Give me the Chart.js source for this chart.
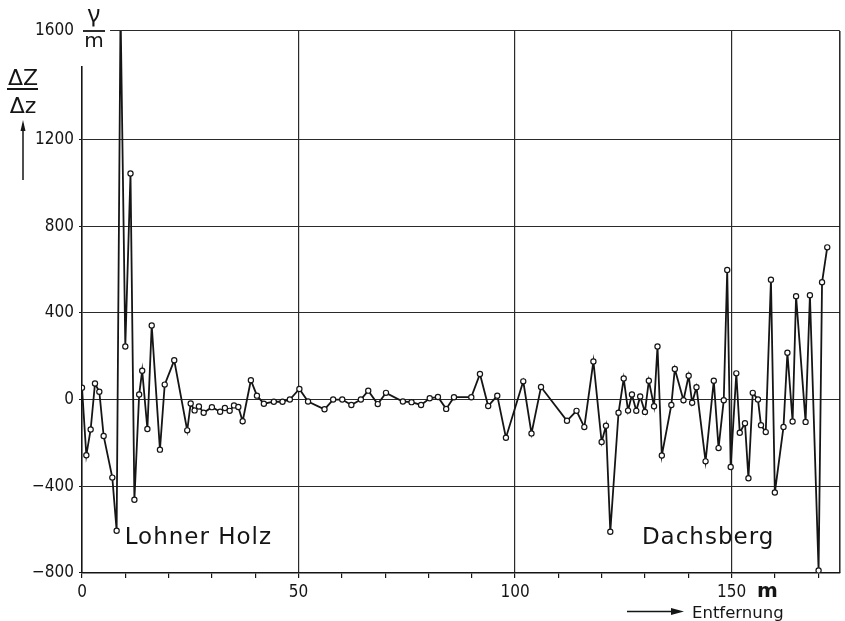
<!DOCTYPE html>
<html><head><meta charset="utf-8">
<script src="https://cdn.jsdelivr.net/npm/chart.js@4.4.1/dist/chart.umd.min.js"></script>
<style>html,body{margin:0;padding:0;background:#fff;}canvas{display:block;}</style>
</head><body>
<canvas id="c" width="845" height="621"></canvas>
<script>
// Distance along profile (m)
const distances = [0,1,2,3,4,5,7,8,8.9,10,11.2,12.1,13.2,13.9,15.1,16.1,18,19.1,21.3,24.3,
25.1,26,27,28.1,30,31.9,33,34.1,35.1,36.1,37.1,39,40.4,42,44.3,46.3,48,50.2,52.2,56,
58,60.1,62.2,64.4,66.1,68.3,70.2,74.1,76.1,78.3,80.3,82.2,84.1,85.9,89.9,91.9,93.8,95.9,97.9,101.9,
103.8,106,112,114.2,116,118.1,120,121,122,123.9,125.1,126.1,127,128,128.9,130,130.9,132.1,132.9,133.9,
136.1,136.9,138.9,140.1,140.9,141.9,144,145.9,147,148.2,149,149.8,151.1,151.9,153.1,153.9,154.9,156.1,156.8,157.9,
159.1,160,162,162.9,164.1,164.9,167.1,168.1,170.1,170.9,172.1];
// Vertical gradient ΔZ/Δz (γ/m)
const gradient = [55,-257,-138,74,36,-168,-360,-605,1800,245,1043,-462,23,133,-136,342,-231,69,181,-142,
-18,-50,-32,-61,-35,-56,-39,-52,-27,-34,-100,89,18,-19,-10,-10,0,49,-9,-45,
0,0,-25,0,41,-21,31,-9,-12,-25,6,12,-43,11,11,118,-30,18,-176,84,
-156,58,-98,-52,-127,176,-196,-121,-610,-61,97,-51,23,-52,14,-57,87,-31,245,-258,
-25,141,-3,110,-15,57,-285,87,-224,-3,598,-311,121,-153,-109,-363,31,0,-118,-150,
553,-429,-126,216,-101,477,-103,481,-788,541,702];

const yTickValues = [-800,-400,0,400,800,1200];
const yTopValue = 1700;      // top edge of the frame
const yTopLabel = "1600";    // label printed at the top edge in the original
const xTickValues = [0,10,20,30,40,50,60,70,80,90,100,110,120,130,140,150,160,170];
const xLabelValues = [0,50,100,150];
const xMax = 175;
const placeNames = ["Lohner Holz","Dachsberg"];
const placeX = [9.85,129.3];
const placeY = [-667,-667];

const INK = '#151515';
const COND = '"DejaVu Sans Condensed","DejaVu Sans",sans-serif';
const SANS = '"DejaVu Sans",sans-serif';

const decor = {
  id:'decor',
  afterDraw(chart){
    const {ctx, chartArea:a, scales:{x,y}} = chart;
    ctx.save();
    // right frame line
    ctx.strokeStyle = INK; ctx.lineWidth = 1.4;
    ctx.beginPath(); ctx.moveTo(a.right, a.top); ctx.lineTo(a.right, a.bottom); ctx.stroke();
    // open top-left corner for unit label
    ctx.fillStyle = '#fff';
    ctx.fillRect(a.left-4, a.top-6, 110-(a.left-4), 66-(a.top-6));
    ctx.fillStyle = INK;
    // unit γ/m
    ctx.lineWidth = 1.8;
    ctx.beginPath(); ctx.moveTo(83, a.top); ctx.lineTo(105, a.top); ctx.stroke();
    ctx.textAlign = 'center'; ctx.textBaseline = 'alphabetic';
    ctx.font = '24px "Noto Sans",' + SANS;
    ctx.fillText('γ', 94, 22);
    ctx.font = '20px ' + SANS;
    ctx.fillText('m', 94, 47);
    // ΔZ / Δz
    ctx.font = '22px ' + SANS;
    ctx.fillText('ΔZ', 23, 85);
    ctx.beginPath(); ctx.moveTo(7, 89); ctx.lineTo(38, 89); ctx.lineWidth = 2; ctx.stroke();
    ctx.fillText('Δz', 23, 113);
    // upward arrow
    ctx.lineWidth = 1.5;
    ctx.beginPath(); ctx.moveTo(23, 180); ctx.lineTo(23, 128); ctx.stroke();
    ctx.beginPath(); ctx.moveTo(23, 120); ctx.lineTo(20.5, 131); ctx.lineTo(25.5, 131); ctx.closePath(); ctx.fill();
    // "m" after 150
    ctx.font = 'bold 20px ' + SANS;
    ctx.textAlign = 'left';
    ctx.fillText('m', 757, 597);
    // Entfernung arrow
    ctx.lineWidth = 1.6;
    ctx.beginPath(); ctx.moveTo(627, 611.5); ctx.lineTo(672, 611.5); ctx.stroke();
    ctx.beginPath(); ctx.moveTo(684, 611.5); ctx.lineTo(671, 608); ctx.lineTo(671, 615); ctx.closePath(); ctx.fill();
    ctx.font = '16.5px ' + SANS;
    ctx.fillText('Entfernung', 692, 618);
    // place names
    ctx.font = '23px ' + SANS;
    try { ctx.letterSpacing = '1px'; } catch(e) {}
    placeNames.forEach((t,i)=>{
      ctx.fillText(t, x.getPixelForValue(placeX[i]), y.getPixelForValue(placeY[i]));
    });
    ctx.restore();
  }
};

new Chart(document.getElementById('c'), {
  type:'line',
  data:{ datasets:[{
    data: distances.map((d,i)=>({x:d, y:gradient[i]})),
    borderColor: INK, borderWidth: 1.8, tension: 0,
    pointRadius: 2.6, pointBorderWidth: 1.2, pointBackgroundColor:'#fff', pointBorderColor: INK
  }]},
  options:{
    responsive:false, animation:false,
    layout:{ padding:{ top:31, right:4, left:0, bottom:0 } },
    plugins:{ legend:{display:false}, tooltip:{enabled:false} },
    scales:{
      x:{
        type:'linear', min:0, max:xMax,
        afterBuildTicks(s){ s.ticks = xTickValues.map(v=>({value:v})); },
        afterFit(s){ s.height = 48; },
        ticks:{ autoSkip:false, maxRotation:0, padding:4, color:INK,
          font:{ family:COND, size:17 },
          callback:(v)=> xLabelValues.includes(v) ? String(v) : '' },
        grid:{ color:(c)=> (c.tick && c.tick.value % 50 === 0) ? '#2a2a2a' : 'rgba(0,0,0,0)',
          tickColor: INK, tickLength:5, lineWidth:1.2 },
        border:{ display:true, color:INK, width:1.5 }
      },
      y:{
        min:-800, max:yTopValue,
        afterBuildTicks(s){ s.ticks = yTickValues.concat([yTopValue]).map(v=>({value:v})); },
        afterFit(s){ s.width = 82; },
        ticks:{ autoSkip:false, padding:5, color:INK,
          font:{ family:COND, size:17 },
          callback:(v)=> v === yTopValue ? yTopLabel : (v < 0 ? '\u2212' + Math.abs(v) : String(v)) },
        grid:{ color:'#2a2a2a', tickColor:INK, tickLength:3, lineWidth:1.1 },
        border:{ display:true, color:INK, width:1.5 }
      }
    }
  },
  plugins:[decor]
});
</script>
</body></html>
